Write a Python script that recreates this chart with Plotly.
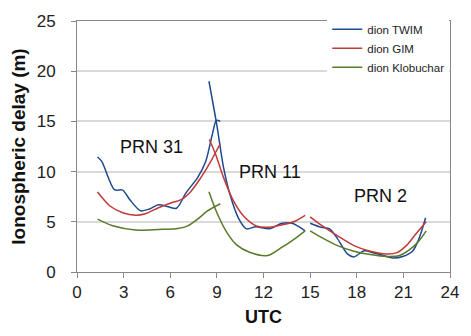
import plotly.graph_objects as go

# ---- data (UTC hours, ionospheric delay in metres) ----
twim_31_x = [1.32, 1.6, 2.41, 2.94, 3.4, 4.09, 4.7, 5.24, 5.87, 6.4, 7.02, 7.76, 8.28, 8.7, 8.97, 9.22]
twim_31_y = [11.45, 11.0, 8.2, 8.16, 7.2, 6.1, 6.3, 6.7, 6.5, 6.35, 7.9, 9.4, 11.0, 13.65, 15.1, 15.0]
twim_11_x = [8.49, 9.0, 9.43, 9.85, 10.38, 10.9, 11.5, 12.37, 13.2, 13.84, 14.68]
twim_11_y = [19.0, 14.6, 10.4, 7.7, 5.4, 4.3, 4.5, 4.3, 4.85, 4.85, 4.1]
twim_2_x = [15.0, 15.7, 16.25, 16.77, 17.4, 17.82, 18.45, 19.1, 19.7, 20.33, 20.96, 21.6, 22.0, 22.43]
twim_2_y = [4.85, 4.45, 4.3, 3.3, 1.8, 1.5, 2.1, 1.9, 1.65, 1.4, 1.55, 2.1, 3.3, 5.4]

gim_31_x = [1.32, 2.1, 2.94, 3.77, 4.4, 5.24, 6.08, 6.7, 7.34, 7.97, 8.6, 9.22]
gim_31_y = [7.96, 6.6, 5.9, 5.65, 5.8, 6.4, 6.9, 7.2, 8.05, 9.4, 11.0, 12.8]
gim_11_x = [8.51, 8.9, 9.43, 10.06, 10.7, 11.53, 12.37, 13.2, 13.94, 14.68]
gim_11_y = [13.2, 11.8, 9.4, 7.1, 5.6, 4.6, 4.45, 4.7, 5.0, 5.65]
gim_2_x = [15.0, 15.72, 16.77, 17.82, 18.87, 19.92, 20.55, 21.17, 21.8, 22.47]
gim_2_y = [5.5, 4.67, 3.6, 2.63, 2.07, 1.8, 1.9, 2.6, 3.78, 5.0]

klo_31_x = [1.32, 2.3, 3.77, 5.24, 6.5, 7.13, 7.76, 8.39, 9.22]
klo_31_y = [5.26, 4.6, 4.18, 4.24, 4.34, 4.6, 5.26, 6.08, 6.8]
klo_11_x = [8.49, 9.0, 9.64, 10.27, 11.1, 12.26, 13.2, 14.05, 14.68]
klo_11_y = [7.99, 5.9, 3.95, 2.7, 1.97, 1.64, 2.47, 3.36, 4.1]
klo_2_x = [15.0, 15.72, 16.77, 17.82, 18.87, 19.92, 20.75, 21.38, 22.0, 22.47]
klo_2_y = [4.1, 3.45, 2.63, 2.07, 1.74, 1.55, 1.64, 2.2, 3.1, 4.1]

prn_labels = ["PRN 31", "PRN 11", "PRN 2"]
prn_x = [4.8, 12.4, 19.5]
prn_y = [12.5, 10.0, 7.6]

x_ticks = [0, 3, 6, 9, 12, 15, 18, 21, 24]
y_ticks = [0, 5, 10, 15, 20, 25]

series = [
    ("dion TWIM", "#1f4a8f", [(twim_31_x, twim_31_y), (twim_11_x, twim_11_y), (twim_2_x, twim_2_y)]),
    ("dion GIM", "#c03a3a", [(gim_31_x, gim_31_y), (gim_11_x, gim_11_y), (gim_2_x, gim_2_y)]),
    ("dion Klobuchar", "#5a7a2a", [(klo_31_x, klo_31_y), (klo_11_x, klo_11_y), (klo_2_x, klo_2_y)]),
]

SANS = "Liberation Sans, Arial, sans-serif"

fig = go.Figure()
for name, color, segs in series:
    for i, (sx, sy) in enumerate(segs):
        fig.add_trace(go.Scatter(
            x=sx, y=sy, mode="lines", name=name, legendgroup=name,
            showlegend=(i == 0),
            line=dict(color=color, width=1.5, shape="spline", smoothing=0.8),
        ))

for t, xx, yy in zip(prn_labels, prn_x, prn_y):
    fig.add_annotation(x=xx, y=yy, text=t, showarrow=False,
                       font=dict(family=SANS, size=18, color="#111111"))

fig.update_layout(
    width=471, height=336,
    margin=dict(l=77, r=13, t=18, b=64),
    paper_bgcolor="white", plot_bgcolor="white",
    font=dict(family=SANS, color="#222222"),
    legend=dict(x=0.998, y=1.025, xanchor="right", yanchor="top",
                bgcolor="white", borderwidth=0,
                font=dict(family=SANS, size=11.5, color="#222222"),
                tracegroupgap=0, itemwidth=30),
    showlegend=True,
)
fig.update_xaxes(range=[0, 24], tickvals=x_ticks, ticks="outside", ticklen=5,
                 tickcolor="#888888", showgrid=False, zeroline=False,
                 showline=True, linecolor="#888888", linewidth=1, mirror=True,
                 tickfont=dict(family=SANS, size=17, color="#222222"),
                 title=dict(text="<b>UTC</b>", font=dict(family=SANS, size=18, color="#111111"), standoff=8))
fig.update_yaxes(range=[0, 25], tickvals=y_ticks, ticks="outside", ticklen=5,
                 tickcolor="#888888", showgrid=True, gridcolor="#d9d9d9", gridwidth=1.5,
                 zeroline=False, showline=True, linecolor="#888888", linewidth=1, mirror=True,
                 tickfont=dict(family=SANS, size=17, color="#222222"),
                 ticklabelstandoff=12,
                 title=dict(text="<b>Ionospheric delay (m)</b>", font=dict(family=SANS, size=19, color="#111111"), standoff=6))

fig.write_html("out.html")
